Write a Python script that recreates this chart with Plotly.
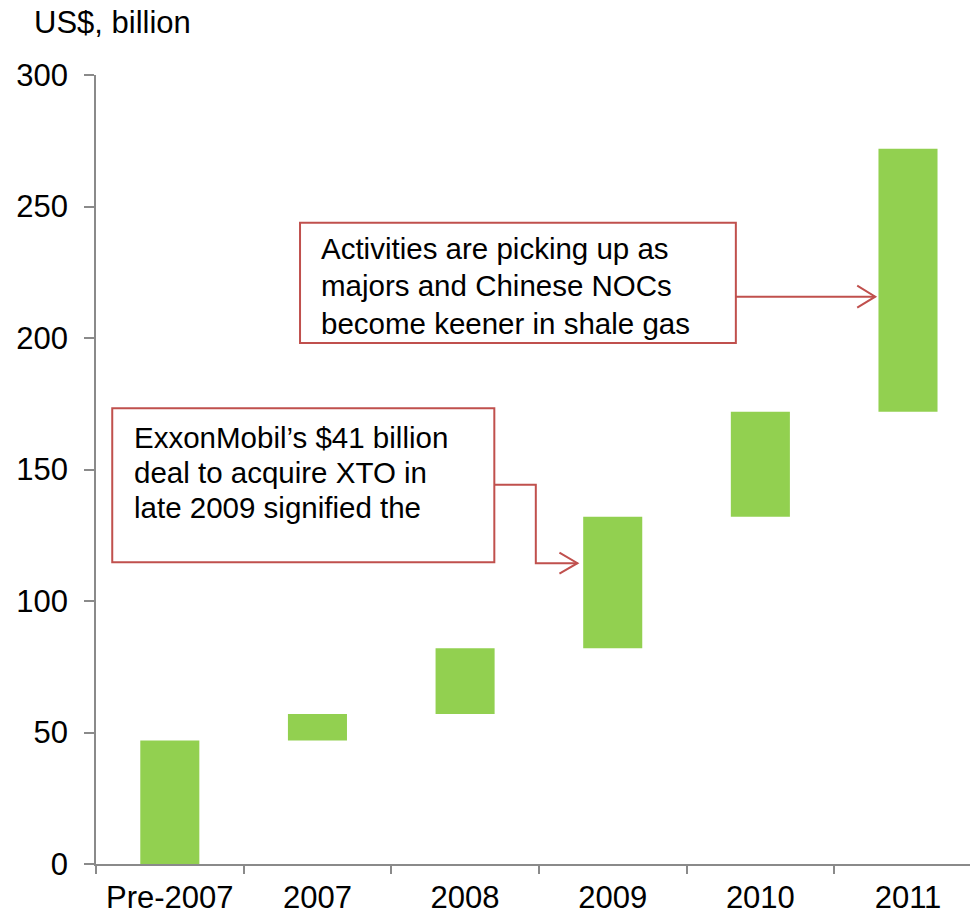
import numpy as np
import plotly.graph_objects as go

# Investment build-up by period (US$ billion)
categories = ["Pre-2007", "2007", "2008", "2009", "2010", "2011"]
increments = [47, 10, 25, 50, 40, 100]
y_ticks = [0, 50, 100, 150, 200, 250, 300]

# each floating bar starts where the previous one ended
bases = np.concatenate([[0], np.cumsum(increments)[:-1]]).tolist()

FONT = "Liberation Sans, Arial, sans-serif"
AXIS_GREY = "#8a8a8a"
RED = "#C0504D"
GREEN = "#92D050"

fig = go.Figure(
    go.Bar(
        x=categories,
        y=increments,
        base=bases,
        width=0.4,
        marker=dict(color=GREEN, line=dict(width=0)),
        hoverinfo="skip",
    )
)

axis_common = dict(
    showline=True,
    linecolor=AXIS_GREY,
    linewidth=1.5,
    ticks="outside",
    tickcolor=AXIS_GREY,
    tickwidth=1.5,
    showgrid=False,
    zeroline=False,
    automargin=False,
    tickfont=dict(family=FONT, size=31, color="black"),
)

fig.update_xaxes(
    type="category",
    range=[-0.5, 5.42],
    tickson="boundaries",
    ticklen=8,
    ticklabelstandoff=5,
    **axis_common,
)
fig.update_yaxes(
    range=[0, 300],
    tickvals=y_ticks,
    ticklen=10,
    ticklabelstandoff=10,
    **axis_common,
)

# callout boxes and connector arrows
box_line = dict(color=RED, width=2)
shapes = [
    dict(type="rect", xref="x", yref="y", x0=0.882, x1=3.834, y0=198.1, y1=243.8,
         line=box_line, fillcolor="white", layer="above"),
    dict(type="rect", xref="x", yref="y", x0=-0.390, x1=2.198, y0=114.7, y1=173.3,
         line=box_line, fillcolor="white", layer="above"),
    dict(type="path", xref="x", yref="y",
         path="M3.834,215.7 L4.778,215.7", line=box_line, layer="above"),
    dict(type="path", xref="x", yref="y",
         path="M2.198,144.2 L2.479,144.2 L2.479,114.4 L2.761,114.4", line=box_line, layer="above"),
    # open chevron heads
    dict(type="path", xref="x", yref="y", xsizemode="pixel", ysizemode="pixel",
         xanchor=4.778, yanchor=215.7, path="M-18,11 L0,0 L-18,-11",
         line=box_line, layer="above"),
    dict(type="path", xref="x", yref="y", xsizemode="pixel", ysizemode="pixel",
         xanchor=2.761, yanchor=114.4, path="M-18,10.5 L0,0 L-18,-10.5",
         line=box_line, layer="above"),
]

note_font = dict(family=FONT, size=29.5, color="black")
annotations = [
    dict(text="US$, billion", xref="paper", yref="paper", x=-0.0732, y=1.066,
         xanchor="left", yanchor="middle", showarrow=False,
         font=dict(family=FONT, size=31, color="black")),
]
lines_a = ["Activities are picking up as", "majors and Chinese NOCs", "become keener in shale gas"]
ys_a = [234.2, 220.0, 205.7]
for t, yy in zip(lines_a, ys_a):
    annotations.append(dict(text=t, xref="x", yref="y", x=1.011, y=yy, xanchor="left",
                            yanchor="middle", showarrow=False, font=note_font))
lines_b = ["ExxonMobil\u2019s $41 billion", "deal to acquire XTO in", "late 2009 signified the"]
ys_b = [162.3, 149.0, 135.7]
for t, yy in zip(lines_b, ys_b):
    annotations.append(dict(text=t, xref="x", yref="y", x=-0.254, y=yy, xanchor="left",
                            yanchor="middle", showarrow=False, font=note_font))

fig.update_layout(
    width=970,
    height=914,
    margin=dict(l=96, r=0, t=75, b=50),
    plot_bgcolor="white",
    paper_bgcolor="white",
    showlegend=False,
    shapes=shapes,
    annotations=annotations,
    font=dict(family=FONT),
)

fig.write_html("out.html")
